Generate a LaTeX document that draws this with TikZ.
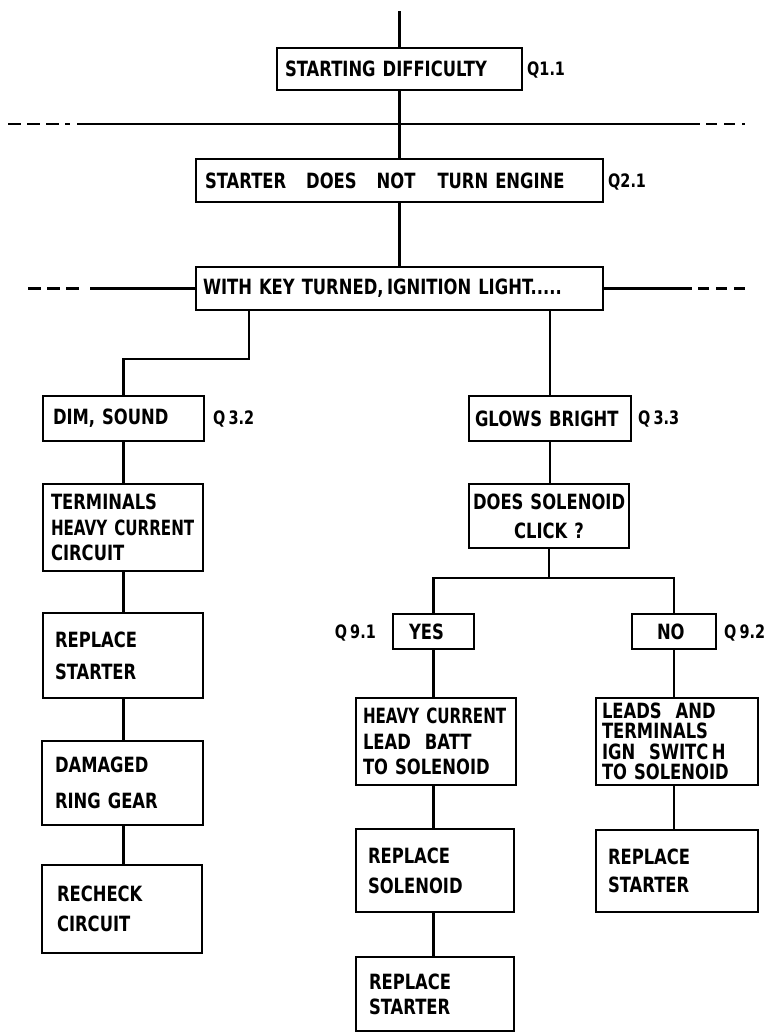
\documentclass[tikz,border=0pt]{standalone}
\usepackage{fontspec}
\setmainfont{DejaVu Sans}[FakeStretch=0.78,WordSpace=1.8]
\hyphenpenalty=10000
\exhyphenpenalty=10000
\hbadness=10000
\hfuzz=200pt
\newcommand{\narrowtext}[1]{\mbox{\addfontfeature{FakeStretch=0.72}#1}}
\begin{document}
\tikzset{
  bx/.style={draw, line width=2.6pt, anchor=north west, align=left, inner ysep=0pt, outer sep=0pt,
             font=\fontsize{21pt}{21pt}\selectfont\bfseries},
  ql/.style={inner sep=0pt, font=\fontsize{18.5pt}{20pt}\selectfont\bfseries},
  conn/.style={line width=2.6pt},
  sep/.style={line width=2.4pt},
  sepdash/.style={line width=2.4pt, dash pattern=on 13pt off 6pt},
  sepdashr/.style={line width=2.4pt, dash pattern=on 11pt off 7pt},
}
\begin{tikzpicture}[x=1pt,y=-1pt]
\useasboundingbox (0,0) rectangle (768,1034);
\fill[white] (0,0) rectangle (768,1034);

% boxes
\node[bx, minimum width=245pt, minimum height=42pt, text width=229pt, inner xsep=8pt] (b1) at (277,48) {STARTING~DIFFICULTY};
\node[bx, minimum width=407pt, minimum height=43pt, text width=389pt, inner xsep=9pt] (b2) at (196,159)
  {STARTER\hspace{20pt}DOES\hspace{20pt}NOT\hspace{22pt}TURN~ENGINE};
\node[bx, minimum width=407pt, minimum height=43pt, text width=393pt, inner xsep=7pt] (b3) at (196,267)
  {WITH~KEY~TURNED,\,IGNITION~LIGHT.....};
\node[bx, minimum width=161pt, minimum height=45pt, text width=141pt, inner xsep=10pt] (dim) at (43,396) {DIM,~SOUND};
\node[bx, minimum width=162pt, minimum height=45pt, text width=150pt, inner xsep=6pt] (glows) at (469,396) {GLOWS~BRIGHT};
\node[bx, minimum width=160pt, minimum height=87pt, text width=144pt, inner xsep=8pt] (term) at (43,484)
  {TERMINALS\\[4.5pt]\narrowtext{HEAVY~CURRENT}\\[4.5pt]CIRCUIT};
\node[bx, minimum width=160pt, minimum height=85pt, text width=136pt, inner xsep=12pt] (rep1) at (43,613)
  {REPLACE\\[11pt]STARTER};
\node[bx, minimum width=161pt, minimum height=84pt, text width=135pt, inner xsep=13pt] (dmg) at (42,741)
  {DAMAGED\\[15pt]RING~GEAR};
\node[bx, minimum width=160pt, minimum height=88pt, text width=130pt, inner xsep=15pt] (rech) at (42,865)
  {RECHECK\\[9pt]CIRCUIT};
\node[bx, align=center, minimum width=160pt, minimum height=64pt, text width=152pt, inner xsep=4pt] (click) at (469,484)
  {\mbox{DOES~SOLENOID}\\[8pt]CLICK~?};
\node[bx, minimum width=81pt, minimum height=35pt, text width=49pt, inner xsep=16pt] (yes) at (393,614) {YES};
\node[bx, minimum width=84pt, minimum height=35pt, text width=34pt, inner xsep=25pt] (no) at (632,614) {NO};
\node[bx, minimum width=160pt, minimum height=87pt, text width=146pt, inner xsep=7pt] (heavy) at (356,698)
  {\narrowtext{HEAVY~CURRENT}\\[4.5pt]LEAD~~BATT\\[4.5pt]TO~SOLENOID};
\node[bx, minimum width=162pt, minimum height=87pt, text width=150pt, inner xsep=6pt] (leads) at (596,698)
  {LEADS~~AND\\[-0.5pt]TERMINALS\\[-0.5pt]IGN~~SWITC\,H\\[-0.5pt]TO~SOLENOID};
\node[bx, minimum width=158pt, minimum height=83pt, text width=134pt, inner xsep=12pt] (sol) at (356,829)
  {REPLACE\\[9pt]SOLENOID};
\node[bx, minimum width=158pt, minimum height=74pt, text width=132pt, inner xsep=13pt] (rep2) at (356,957)
  {REPLACE\\[4pt]STARTER};
\node[bx, minimum width=162pt, minimum height=82pt, text width=138pt, inner xsep=12pt] (rep3) at (596,830)
  {REPLACE\\[7pt]STARTER};

% question labels
\node[ql, anchor=west] (q11) at (527,70) {Q1.1};
\node[ql, anchor=west] (q21) at (608,182) {Q2.1};
\node[ql, anchor=west] (q32) at (213,419) {Q\,3.2};
\node[ql, anchor=west] (q33) at (638,419) {Q\,3.3};
\node[ql, anchor=east] (q91) at (376,633) {Q\,9.1};
\node[ql, anchor=west] (q92) at (724,633) {Q\,9.2};

% connectors
\coordinate (top) at (399.5,11);
\draw[conn] (top) -- (b1.north);
\draw[conn] (b1.south) -- (b2.north);
\draw[conn] (b2.south) -- (b3.north);
\coordinate (elbow) at (249,359);
\draw[conn] (b3.south -| elbow) -- (elbow) -- (elbow -| dim.north) -- (dim.north);
\draw[conn] (b3.south -| glows.north) -- (glows.north);
\draw[conn] (glows.south) -- (glows.south |- click.north);
\draw[conn] (dim.south) -- (dim.south |- term.north);
\draw[conn] (dim.south |- term.south) -- (dim.south |- rep1.north);
\draw[conn] (dim.south |- rep1.south) -- (dim.south |- dmg.north);
\draw[conn] (dim.south |- dmg.south) -- (dim.south |- rech.north);
\coordinate (split) at (549,578);
\draw[conn] (click.south) -- (click.south |- split);
\draw[conn] (yes.north) -- (yes.north |- split) -- (no.north |- split) -- (no.north);
\draw[conn] (yes.south) -- (yes.south |- heavy.north);
\draw[conn] (yes.south |- heavy.south) -- (yes.south |- sol.north);
\draw[conn] (yes.south |- sol.south) -- (yes.south |- rep2.north);
\draw[conn] (no.south) -- (no.south |- leads.north);
\draw[conn] (no.south |- leads.south) -- (no.south |- rep3.north);

% separator lines
\coordinate (a1) at (8,124);
\coordinate (a2) at (63,124);
\coordinate (a3) at (65,124);
\coordinate (a4) at (70,124);
\coordinate (a5) at (77,124);
\coordinate (a6) at (700,124);
\coordinate (a7) at (706,124);
\coordinate (a8) at (745,124);
\draw[sepdash] (a1) -- (a2);
\draw[sep] (a3) -- (a4);
\draw[sep] (a5) -- (a6);
\draw[sepdashr] (a7) -- (a8);

\coordinate (c1) at (28,288.5);
\coordinate (c2) at (80,288.5);
\coordinate (c3) at (90,288.5);
\coordinate (c4) at (692,288.5);
\coordinate (c5) at (698,288.5);
\coordinate (c6) at (748,288.5);
\draw[sepdash] (c1) -- (c2);
\draw[sep] (c3) -- (b3.west);
\draw[sep] (b3.east) -- (c4);
\draw[sepdashr] (c5) -- (c6);
\end{tikzpicture}
\end{document}
